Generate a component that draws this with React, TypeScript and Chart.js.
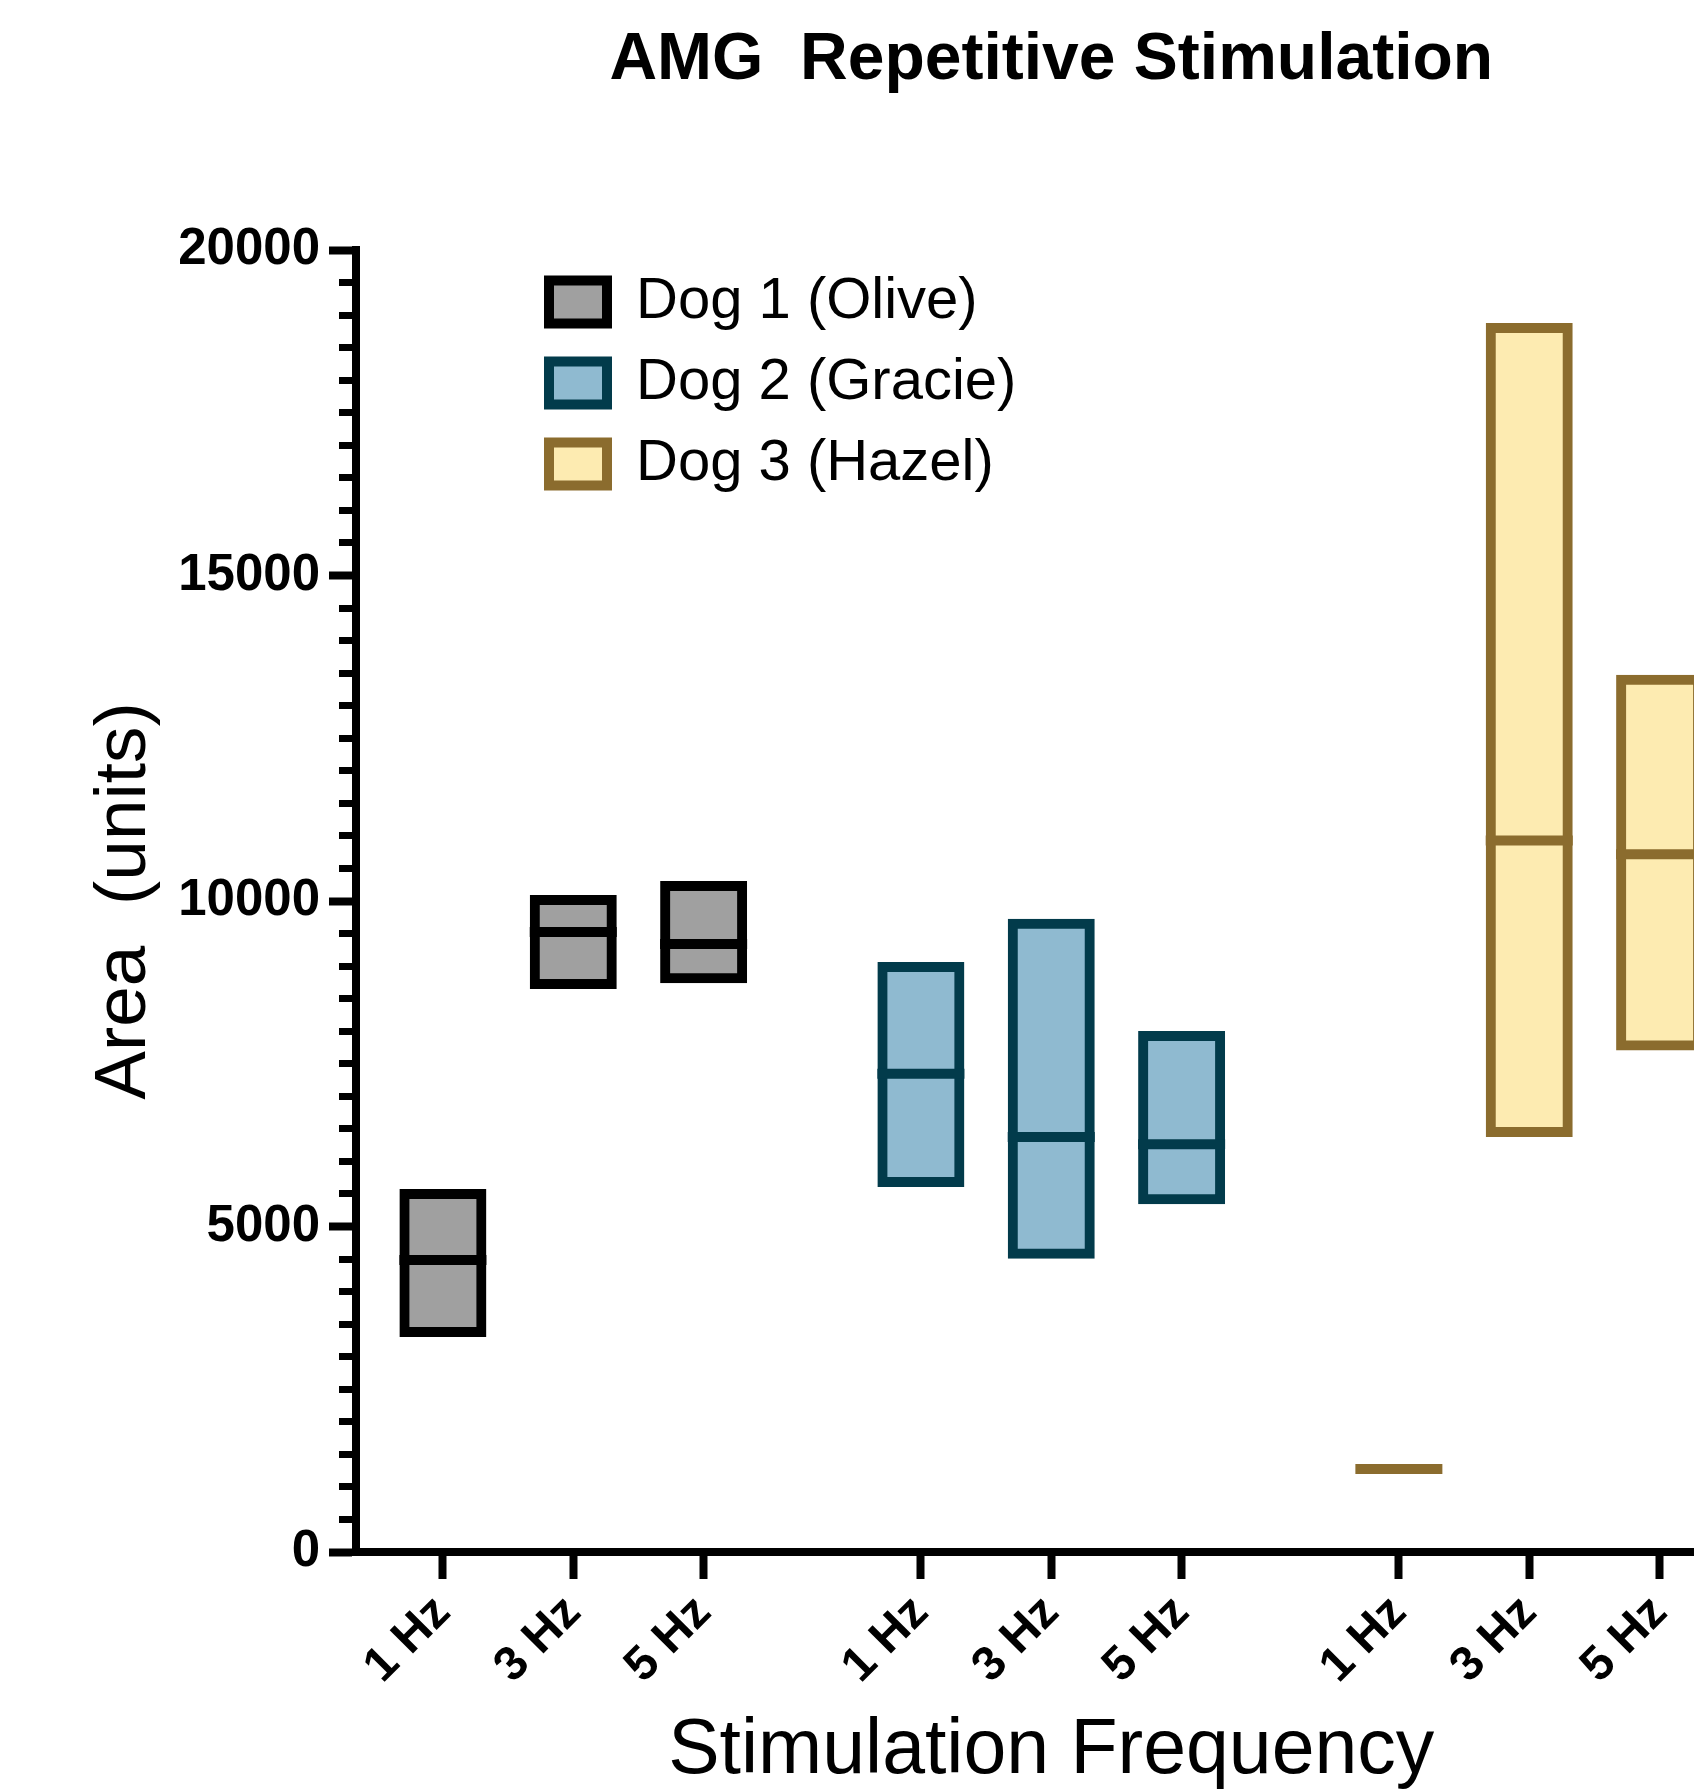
import React, { useEffect, useRef } from 'react';
import { Chart, registerables } from 'chart.js';

Chart.register(...registerables);

// ---------- data ----------
const chartTitle = 'AMG  Repetitive Stimulation';
const yAxisTitle = 'Area  (units)';
const xAxisTitle = 'Stimulation Frequency';
const freqLabels = ['1 Hz', '3 Hz', '5 Hz'];
const dogNames = ['Dog 1 (Olive)', 'Dog 2 (Gracie)', 'Dog 3 (Hazel)'];

const dog1Low = [3380, 8725, 8815];
const dog1High = [5500, 10015, 10230];
const dog1Median = [4485, 9525, 9340];

const dog2Low = [5685, 4580, 5420];
const dog2High = [8985, 9650, 7925];
const dog2Median = [7345, 6375, 6265];

const dog3Low = [1275, 6450, 7780];
const dog3High = [1275, 18800, 13400];
const dog3Median = [1275, 10930, 10720];

const yMin = 0;
const yMax = 20000;
const yMajorStep = 5000;
const yMinorStep = 500;

// ---------- styling ----------
const fillColors = ['#A0A0A0', '#8FBAD0', '#FDEBB1'];
const borderColors = ['#000000', '#023B4B', '#8B6C2E'];
const FONT = "'Liberation Sans', Arial, Helvetica, sans-serif";

const CANVAS_W = 1800;
const CANVAS_H = 1810;
const GROUP_GAP = 2 / 3; // extra category-widths between dogs
const EDGE_PAD = 2 / 3;

const lows = [dog1Low, dog2Low, dog3Low];
const highs = [dog1High, dog2High, dog3High];
const medians = [dog1Median, dog2Median, dog3Median];

const xPos = (d: number, i: number) => d * (freqLabels.length + GROUP_GAP) + i;
const xTickValues: number[] = [];
dogNames.forEach((_, d) => freqLabels.forEach((__, i) => xTickValues.push(xPos(d, i))));
const xMin = -EDGE_PAD;
const xMax = xTickValues[xTickValues.length - 1] + EDGE_PAD;

const legendPlacer = {
  id: 'legendPlacer',
  afterLayout(chart: any) {
    const lg = chart.legend;
    const ca = chart.chartArea;
    if (!lg || !ca) return;
    lg.left = ca.left + 170;
    lg.top = ca.top + 0;
    lg.right = ca.right;
    lg.bottom = ca.bottom;
    lg.width = lg.right - lg.left;
    lg.height = lg.bottom - lg.top;
  },
};

export default function App() {
  const ref = useRef<HTMLCanvasElement | null>(null);

  useEffect(() => {
    if (!ref.current) return;
    Chart.defaults.font.family = FONT;
    Chart.defaults.color = '#000';

    const barSets = dogNames.map((name, d) => ({
      type: 'bar' as const,
      label: name,
      data: freqLabels.map((_, i) => ({ x: xPos(d, i), y: [lows[d][i], highs[d][i]] })),
      backgroundColor: fillColors[d],
      borderColor: borderColors[d],
      borderWidth: 10,
      borderSkipped: false,
      inflateAmount: 5,
      barThickness: 77,
      grouped: false,
      order: 1,
    }));

    const medianSets = dogNames.map((name, d) => ({
      type: 'scatter' as const,
      label: name + ' median',
      data: freqLabels.map((_, i) => ({ x: xPos(d, i), y: medians[d][i] })),
      pointStyle: 'line',
      pointRadius: 43.5,
      pointBorderWidth: 10,
      pointBorderColor: borderColors[d],
      pointBackgroundColor: borderColors[d],
      showLine: false,
      order: 0,
    }));

    const chart = new Chart(ref.current, {
      type: 'bar',
      data: { datasets: [...barSets, ...medianSets] as any },
      plugins: [legendPlacer],
      options: {
        responsive: false,
        animation: false,
        events: [],
        layout: { padding: { left: 0, right: 52, top: 0, bottom: 0 } },
        plugins: {
          tooltip: { enabled: false },
          title: {
            display: true,
            text: chartTitle,
            color: '#000',
            fullSize: false,
            font: { family: FONT, size: 66, weight: 'bold' },
            padding: { top: 21.5, bottom: 149.3 },
          },
          legend: {
            display: true,
            position: 'chartArea',
            align: 'start',
            fullSize: false,
            labels: {
              color: '#000',
              font: { family: FONT, size: 58 },
              boxWidth: 58,
              boxHeight: 43,
              padding: 23,
              filter: (item: any, data: any) => data.datasets[item.datasetIndex].type === 'bar',
            },
          },
        },
        scales: {
          x: {
            type: 'linear',
            min: xMin,
            max: xMax,
            offset: false,
            afterBuildTicks: (s: any) => {
              s.ticks = xTickValues.map((v) => ({ value: v }));
            },
            afterFit: (s: any) => {
              s.height = CANVAS_H - 1552;
              s.paddingLeft = 0;
              s.paddingRight = 0;
            },
            grid: {
              offset: false,
              drawOnChartArea: false,
              drawTicks: true,
              tickLength: 27,
              tickWidth: 8,
              tickColor: '#000',
            },
            border: { display: true, width: 8, color: '#000' },
            ticks: {
              autoSkip: false,
              minRotation: 45,
              maxRotation: 45,
              padding: 5.6,
              color: '#000',
              font: { family: FONT, size: 48, weight: 'bold' },
              callback: (_v: any, i: number) => freqLabels[i % freqLabels.length],
            },
            title: {
              display: true,
              text: xAxisTitle,
              color: '#000',
              font: { family: FONT, size: 77 },
              padding: { top: 0, bottom: 12 },
            },
          },
          y: {
            type: 'linear',
            min: yMin,
            max: yMax,
            afterFit: (s: any) => {
              s.width = 356;
              s.paddingTop = 0;
              s.paddingBottom = 0;
            },
            grid: {
              drawOnChartArea: false,
              drawTicks: true,
              tickLength: 27,
              tickColor: '#000',
              tickWidth: (c: any) => (c.tick && c.tick.value % yMajorStep === 0 ? 8 : 7),
              tickBorderDash: (c: any) => (c.tick && c.tick.value % yMajorStep === 0 ? [] : [0, 10, 100]),
            },
            border: { display: true, width: 8, color: '#000' },
            ticks: {
              stepSize: yMinorStep,
              maxTicksLimit: 1000,
              autoSkip: false,
              padding: 9,
              color: '#000',
              font: { family: FONT, size: 51, weight: 'bold' },
              callback: (v: any) => (Number(v) % yMajorStep === 0 ? String(v) : ''),
            },
            title: {
              display: true,
              text: yAxisTitle,
              color: '#000',
              font: { family: FONT, size: 73 },
              padding: { top: 81, bottom: 0 },
            },
          },
        },
      } as any,
    });

    return () => chart.destroy();
  }, []);

  return (
    <div
      style={{
        position: 'absolute',
        left: 0,
        top: 0,
        width: 1694,
        height: 1790,
        overflow: 'hidden',
        background: '#fff',
      }}
    >
      <canvas
        ref={ref}
        width={CANVAS_W}
        height={CANVAS_H}
        style={{ display: 'block', width: CANVAS_W, height: CANVAS_H }}
      />
    </div>
  );
}
